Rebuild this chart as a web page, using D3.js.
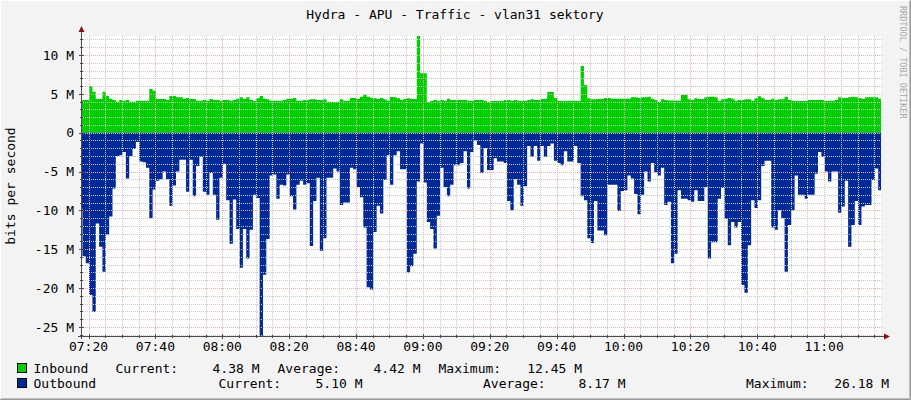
<!DOCTYPE html>
<html><head><meta charset="utf-8">
<script src="https://cdn.jsdelivr.net/npm/d3@7"></script>
<style>
html,body{margin:0;padding:0;background:#F3F3F3}
svg{display:block}
text{font-family:"DejaVu Sans Mono",monospace;fill:#000}
</style>
</head><body>
<svg id="chart" width="911" height="400"></svg>
<script>
// ---------------- data ----------------
const title = "Hydra - APU - Traffic - vlan31 sektory";
const yAxisTitle = "bits per second";
const watermark = "RRDTOOL / TOBI OETIKER";
const viewStart = "07:17:45";
const viewEnd = "11:17:00";
const firstSample = "07:17:10";   // start of first 1-minute sample
const sampleSeconds = 60;
const yTickValues = [10, 5, 0, -5, -10, -15, -20, -25];
const yTickLabels = ["10 M", "5 M", "0", "-5 M", "-10 M", "-15 M", "-20 M", "-25 M"];
const xTickLabels = ["07:20","07:40","08:00","08:20","08:40","09:00","09:20","09:40","10:00","10:20","10:40","11:00"];
const seriesNames = ["Inbound", "Outbound"];
const seriesColors = ["#00CF00", "#002A97"];
// Mbit/s, one value per minute
const inbound = [
4.12,4.21,4.21,6.01,5.28,4.34,4.34,5.28,4.73,4.38,
4.21,3.99,4.21,4.12,4.21,3.99,3.99,4.12,4.12,4.12,
4.12,5.62,5.41,4.34,4.34,4.34,4.21,4.73,4.73,4.55,
4.55,4.38,4.47,4.34,4.34,4.12,4.12,4.21,4.12,4.34,
4.21,4.21,4.12,4.21,4.21,4.12,4.21,4.38,4.55,4.34,
4.55,4.21,4.08,4.42,4.73,4.38,4.29,4.12,4.12,4.12,
4.12,4.21,4.38,4.38,4.47,4.12,4.12,4.21,4.21,4.29,
4.29,4.21,4.21,4.29,3.99,3.99,3.95,3.99,4.29,4.12,
4.12,4.47,4.47,4.34,4.64,4.90,4.64,4.51,4.42,4.34,
4.47,4.29,4.12,4.59,4.55,4.42,4.21,4.34,4.42,4.34,
4.34,12.45,7.64,7.64,3.95,4.08,4.21,4.12,4.21,4.12,
4.38,4.21,4.21,4.21,4.21,4.21,4.12,4.08,4.21,4.21,
4.21,4.12,3.95,4.08,4.08,4.08,4.08,4.21,4.21,4.12,
4.21,4.12,4.08,4.08,4.21,4.29,4.21,4.21,4.34,4.38,
5.24,5.24,4.47,4.08,4.08,4.08,4.12,4.12,4.12,4.08,
8.58,6.14,4.42,4.29,4.29,4.34,4.34,4.47,4.47,4.38,
4.38,4.38,4.38,4.38,4.38,4.55,4.55,4.47,4.55,4.55,
4.64,4.38,4.21,3.95,4.29,4.21,4.16,4.16,4.16,4.12,
4.85,4.85,4.29,4.21,4.42,4.34,4.34,4.55,4.64,4.64,
4.55,4.12,4.29,4.38,4.47,4.38,4.12,4.21,4.21,4.29,
4.29,4.12,4.42,4.68,4.42,4.21,4.21,4.38,4.21,4.29,
4.29,4.64,4.21,4.12,4.08,4.08,4.08,4.08,4.21,4.21,
4.21,4.21,4.21,4.08,4.12,4.12,4.21,4.55,4.47,4.47,
4.55,4.64,4.55,4.47,4.34,4.55,4.55,4.55,4.55,4.38,
4.38
];
// Mbit/s, one value per minute (drawn below zero)
const outbound = [
9.8,15.9,16.8,20.9,23.1,11.7,14.7,17.9,13.1,10.8,
7.2,3.0,2.9,2.5,5.9,3.0,2.1,1.2,3.7,3.8,
4.5,11.0,7.3,6.2,6.0,5.0,6.0,9.4,6.8,5.0,
3.5,3.5,7.6,3.5,8.2,4.3,3.1,7.6,8.0,5.2,
8.0,11.2,5.8,4.0,8.7,14.3,8.6,12.4,17.4,12.4,
16.2,12.5,8.0,8.4,26.18,18.3,13.7,5.5,5.4,8.5,
6.7,6.8,5.4,8.2,9.9,6.7,6.2,6.7,6.5,14.6,
8.8,5.8,15.2,13.6,5.8,5.8,4.6,5.0,9.3,9.0,
9.0,4.5,4.7,7.0,8.3,12.2,19.9,20.2,12.8,9.4,
10.4,6.1,2.9,6.7,2.9,2.4,4.7,4.7,18.0,17.2,
15.6,6.3,1.4,6.4,11.5,12.4,14.9,10.7,4.5,7.0,
8.2,6.7,4.2,4.2,3.9,2.4,7.2,2.5,1.0,1.6,
5.2,2.0,4.8,4.8,3.3,3.7,3.7,3.9,8.8,10.0,
6.0,6.7,9.4,6.9,1.7,3.1,1.7,3.6,1.7,3.1,
1.7,1.4,3.6,3.9,4.2,2.4,3.7,3.7,1.7,3.9,
8.2,8.7,13.6,14.2,8.8,12.6,12.6,13.2,6.7,6.7,
6.7,10.1,7.5,7.4,5.5,5.9,7.9,10.5,8.0,5.0,
6.3,3.9,5.1,5.5,4.5,9.3,8.9,16.8,15.6,7.4,
8.5,8.5,8.7,8.9,7.4,8.8,8.8,7.0,16.2,14.1,
14.1,8.5,7.1,11.1,14.5,11.5,12.2,11.5,19.6,20.6,
14.5,8.7,9.7,8.7,4.3,3.6,3.6,12.2,12.5,10.0,
11.0,17.9,11.9,10.0,5.5,8.0,8.0,8.5,8.0,8.0,
5.3,2.5,3.1,5.0,6.3,5.0,5.0,10.3,9.5,6.2,
14.7,11.9,8.8,11.9,9.5,9.3,9.3,6.1,4.6,7.4,
6.8
];
const legendLabels = ["Current:", "Average:", "Maximum:"];
const inboundStats = ["4.38 M", "4.42 M", "12.45 M"];
const outboundStats = ["5.10 M", "8.17 M", "26.18 M"];

// ---------------- drawing ----------------
const W = 911, H = 400;
const PL = 81, PR = 881, PT = 36, PB = 336;
const svg = d3.select("#chart");
const day = s => { const [h, m, sec] = s.split(":").map(Number); return new Date(2024, 0, 1, h, m, sec || 0); };

const x = d3.scaleTime().domain([day(viewStart), day(viewEnd)]).range([PL, PR]);
const y = d3.scaleLinear().domain([-d3.max(outbound), d3.max(inbound)]).range([PB, PT]);

// background + frame
svg.append("rect").attr("width", W).attr("height", H).attr("fill", "#F3F3F3");
svg.append("path").attr("d", `M0.5,${H} V0.5 H${W}`).attr("fill","none").attr("stroke","#FFFFFF").attr("stroke-width",1);
svg.append("path").attr("d", `M0,${H-0.5} H${W-0.5} V0`).attr("fill","none").attr("stroke","#9A9A9A").attr("stroke-width",1);
svg.append("path").attr("d", `M1,${H-1.5} H${W-1.5} V1`).attr("fill","none").attr("stroke","#BDBDBD").attr("stroke-width",1);
svg.append("rect").attr("x", PL).attr("y", PT).attr("width", PR - PL).attr("height", PB - PT).attr("fill", "#FFFFFF");

// series
const t0 = day(firstSample);
const pts = (arr, sign) => {
  const p = arr.map((v, i) => ({ t: new Date(+t0 + i * sampleSeconds * 1000), v: sign * v }));
  p.push({ t: new Date(+t0 + arr.length * sampleSeconds * 1000), v: sign * arr[arr.length - 1] });
  return p;
};
svg.append("clipPath").attr("id", "plotclip").append("rect")
  .attr("x", PL + 1).attr("y", PT).attr("width", PR - PL - 1).attr("height", PB - PT);
const area = d3.area().x(d => x(d.t)).y0(y(0)).y1(d => y(d.v)).curve(d3.curveStepAfter);
const g = svg.append("g").attr("clip-path", "url(#plotclip)");
g.append("path").datum(pts(inbound, 1)).attr("d", area).attr("fill", seriesColors[0]);
g.append("path").datum(pts(outbound, -1)).attr("d", area).attr("fill", seriesColors[1]);

// grid (drawn over the data, as rrdtool does)
const grid = svg.append("g");
const [yLo, yHi] = y.domain();
const minorY = d3.range(Math.ceil(yLo), Math.floor(yHi) + 1).filter(v => v % 5 !== 0);
const majorY = yTickValues;
const crisp = v => Math.round(v) + 0.5;
const minorCol = "#C8C8C8", majorCol = "#F2ABAB";
minorY.forEach(v => grid.append("line").attr("x1", PL).attr("x2", PR + 2)
  .attr("y1", crisp(y(v))).attr("y2", crisp(y(v)))
  .attr("stroke", minorCol).attr("stroke-dasharray", "1,1"));
const allMinutes5 = d3.timeMinute.every(5).range(x.domain()[0], x.domain()[1]);
allMinutes5.filter(d => d.getMinutes() % 20 !== 0).forEach(d => grid.append("line")
  .attr("x1", crisp(x(d))).attr("x2", crisp(x(d))).attr("y1", PT).attr("y2", PB)
  .attr("stroke", minorCol).attr("stroke-dasharray", "1,1"));
majorY.forEach(v => grid.append("line").attr("x1", PL).attr("x2", PR + 2)
  .attr("y1", crisp(y(v))).attr("y2", crisp(y(v)))
  .attr("stroke", majorCol).attr("stroke-dasharray", "1,1"));
const majorX = d3.timeMinute.every(20).range(x.domain()[0], x.domain()[1]);
majorX.forEach(d => grid.append("line")
  .attr("x1", crisp(x(d))).attr("x2", crisp(x(d))).attr("y1", PT).attr("y2", PB)
  .attr("stroke", majorCol).attr("stroke-dasharray", "1,1"));

// axes
const axisCol = "#4A4A4A", arrowCol = "#8B1010";
svg.append("line").attr("x1", PL - 3).attr("x2", PR + 4).attr("y1", PB + 0.5).attr("y2", PB + 0.5).attr("stroke", axisCol);
svg.append("line").attr("x1", PL + 0.5).attr("x2", PL + 0.5).attr("y1", PB + 3).attr("y2", PT - 5).attr("stroke", axisCol);
svg.append("path").attr("d", `M${PL - 2.5},${PT - 4} L${PL + 0.5},${PT - 10} L${PL + 3.5},${PT - 4} Z`).attr("fill", arrowCol);
svg.append("path").attr("d", `M${PR + 3},${PB - 2.5} L${PR + 9},${PB + 0.5} L${PR + 3},${PB + 3.5} Z`).attr("fill", arrowCol);
// ticks
majorY.forEach(v => svg.append("line").attr("x1", PL - 2).attr("x2", PL + 3)
  .attr("y1", crisp(y(v))).attr("y2", crisp(y(v))).attr("stroke", axisCol));
minorY.forEach(v => svg.append("line").attr("x1", PL - 1).attr("x2", PL + 2)
  .attr("y1", crisp(y(v))).attr("y2", crisp(y(v))).attr("stroke", axisCol));
majorX.forEach(d => svg.append("line").attr("x1", crisp(x(d))).attr("x2", crisp(x(d)))
  .attr("y1", PB - 2).attr("y2", PB + 3).attr("stroke", axisCol));
allMinutes5.filter(d => d.getMinutes() % 20 !== 0).forEach(d => svg.append("line")
  .attr("x1", crisp(x(d))).attr("x2", crisp(x(d))).attr("y1", PB - 1).attr("y2", PB + 2).attr("stroke", axisCol));

// y labels
yTickValues.forEach((v, i) => svg.append("text").attr("x", 74).attr("y", y(v)).attr("dy", "0.36em")
  .attr("text-anchor", "end").attr("font-size", 13).text(yTickLabels[i]));
// x labels
majorX.forEach((d, i) => svg.append("text").attr("x", x(d)).attr("y", 351)
  .attr("text-anchor", "middle").attr("font-size", 13).text(xTickLabels[i]));

// titles
svg.append("text").attr("x", 455).attr("y", 19).attr("text-anchor", "middle").attr("font-size", 13).text(title);
svg.append("text").attr("transform", `translate(15,${(PT + PB) / 2}) rotate(-90)`).attr("text-anchor", "middle")
  .attr("font-size", 13).text(yAxisTitle);
svg.append("text").attr("transform", "translate(900,6) rotate(90)").attr("font-size", 8.5)
  .style("fill", "#A8A8A8").text(watermark);

// legend
const rows = [
  { name: seriesNames[0], color: seriesColors[0], stats: inboundStats, yb: 373,
    lx: [115.5, 277.5, 438.5], vx: [259.5, 420.5, 582] },
  { name: seriesNames[1], color: seriesColors[1], stats: outboundStats, yb: 388,
    lx: [218.5, 483, 746], vx: [362.5, 625.5, 889] }
];
rows.forEach(r => {
  svg.append("rect").attr("x", 17.5).attr("y", r.yb - 9.5).attr("width", 9).attr("height", 9)
    .attr("fill", r.color).attr("stroke", "#000").attr("stroke-width", 1);
  svg.append("text").attr("x", 33.5).attr("y", r.yb).attr("font-size", 13).text(r.name);
  legendLabels.forEach((l, i) => {
    svg.append("text").attr("x", r.lx[i]).attr("y", r.yb).attr("font-size", 13).text(l);
    svg.append("text").attr("x", r.vx[i]).attr("y", r.yb).attr("text-anchor", "end").attr("font-size", 13).text(r.stats[i]);
  });
});
</script>
</body></html>
